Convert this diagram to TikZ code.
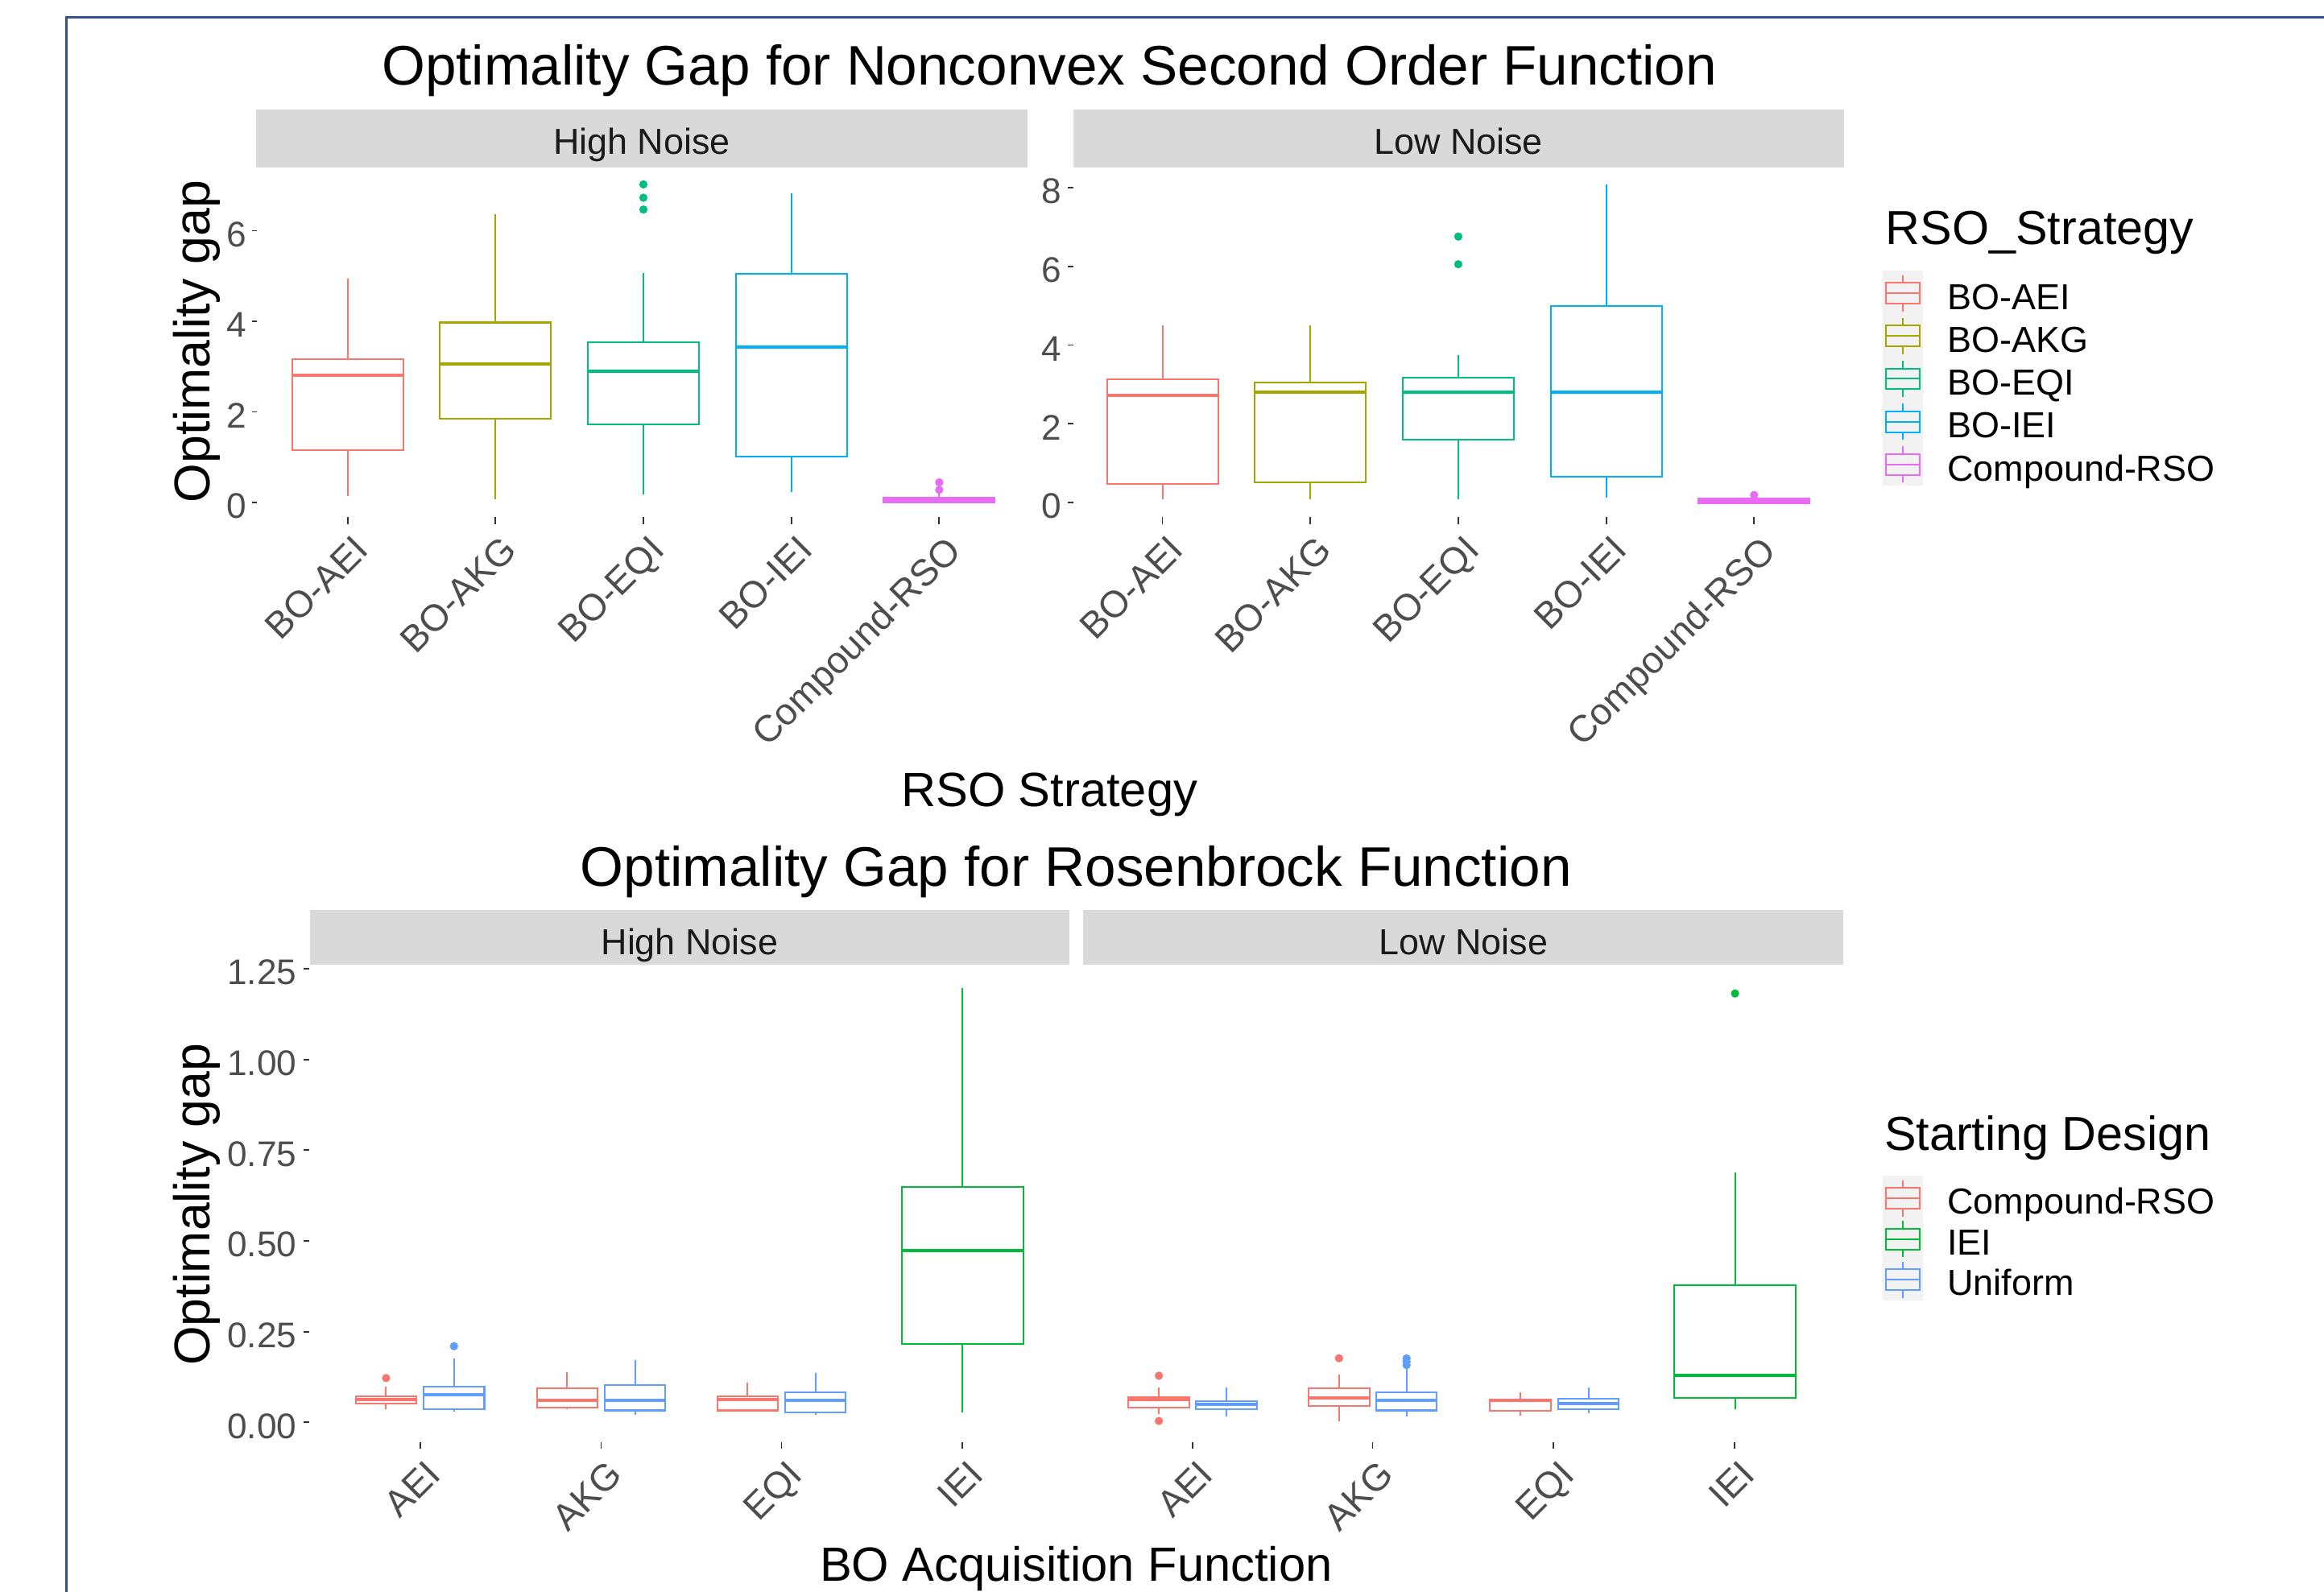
\documentclass[tikz,border=0pt]{standalone}
\usepackage{fontspec}
\setmainfont{Liberation Sans}
\definecolor{cA}{HTML}{F8766D}
\definecolor{cB}{HTML}{A3A500}
\definecolor{cC}{HTML}{00BF7D}
\definecolor{cD}{HTML}{00B0F6}
\definecolor{cE}{HTML}{E76BF3}
\definecolor{gG}{HTML}{00BA38}
\definecolor{bB}{HTML}{619CFF}
\definecolor{stripbg}{HTML}{D9D9D9}
\definecolor{keybg}{HTML}{F2F2F2}
\definecolor{ticktxt}{HTML}{4D4D4D}
\definecolor{tickln}{HTML}{333333}
\definecolor{striptxt}{HTML}{1A1A1A}
\definecolor{framebl}{HTML}{2F528F}
\newcommand{\bplot}[8]{%
  \draw[bl,#1] (#2,#4) -- (#2,#5);
  \draw[bl,#1] (#2,#7) -- (#2,#8);
  \draw[bl,#1] ({#2-#3},#5) rectangle ({#2+#3},#7);
  \draw[ml,#1] ({#2-#3},#6) -- ({#2+#3},#6);
}
\newcommand{\opt}[3]{\fill[#1] (#2,#3) circle[radius=1.4pt];}
\newcommand{\lkey}[2]{%
  \draw[bl,#1] (1283.8,{#2-12.2}) -- (1283.8,{#2-7});
  \draw[bl,#1] (1283.8,{#2+7}) -- (1283.8,{#2+12.2});
  \draw[bl,#1] (1272.6,{#2-7}) rectangle (1295,{#2+7});
  \draw[bl,#1] (1272.6,#2) -- (1295,#2);
}
\begin{document}
\begin{tikzpicture}[x=0.5pt,y=-0.5pt,
  bl/.style={line width=0.55pt},
  ml/.style={line width=1.15pt},
  tk/.style={draw=tickln,line width=0.5pt},
  ttl/.style={font=\fontsize{18.8}{22}\selectfont,text=black,inner sep=0},
  axt/.style={font=\fontsize{16.2}{19}\selectfont,text=black,inner sep=0},
  ayt/.style={font=\fontsize{17}{20}\selectfont,text=black,inner sep=0,rotate=90},
  strp/.style={font=\fontsize{12.2}{14}\selectfont,text=striptxt,inner sep=0},
  tkl/.style={font=\fontsize{12}{14}\selectfont,text=ticktxt,inner sep=0},
  xtl/.style={font=\fontsize{12.6}{14}\selectfont,text=ticktxt,inner sep=0,rotate=45,anchor=north east},
  lgt/.style={font=\fontsize{16.1}{19}\selectfont,text=black,inner sep=0,anchor=base west},
  lgl/.style={font=\fontsize{12.2}{14}\selectfont,text=black,inner sep=0,anchor=base west}]
\useasboundingbox (0,0) rectangle (1568,1074);
\fill[white] (0,0) rectangle (1568,1074);
% frame
\draw[framebl,line width=0.8pt] (1568,11.6) -- (45,11.6) -- (45,1074);

% ================= TOP CHART =================
\node[ttl,anchor=base] (title1) at (708,57.5) {Optimality Gap for Nonconvex Second Order Function};
\fill[stripbg] (173,74) rectangle (693,113);
\fill[stripbg] (724,74) rectangle (1244,113);
\node[strp,anchor=base] (s1) at (433,104) {High Noise};
\node[strp,anchor=base] (s2) at (984,104) {Low Noise};
% y axis left
\foreach \v in {0,2,4,6}{
  \draw[tk] (170,{339-30.55*\v}) -- (173.3,{339-30.55*\v});
  \node[tkl,anchor=east] at (166.5,{339-30.55*\v+2.5}) {\v};
}
% y axis right
\foreach \v in {0,2,4,6,8}{
  \draw[tk] (720.5,{339-26.55*\v}) -- (724,{339-26.55*\v});
  \node[tkl,anchor=east] at (716.5,{339-26.55*\v+2.5}) {\v};
}
\node[ayt,anchor=base] (yt1) at (141.5,230.4) {Optimality gap};
% x ticks and labels
\foreach \x/\l in {234.5/BO-AEI,334.3/BO-AKG,434.1/BO-EQI,533.9/BO-IEI,633.7/Compound-RSO,
                   784.3/BO-AEI,884.1/BO-AKG,983.9/BO-EQI,1083.7/BO-IEI,1183.5/Compound-RSO}{
  \draw[tk] (\x,349) -- (\x,353.5);
  \node[xtl] at (\x+3,359.5) {\l};
}
\node[axt,anchor=base] (xt1) at (708,544) {RSO Strategy};
% boxes high noise
\bplot{cA}{234.5}{37.5}{188}{242.5}{253}{303.7}{334.7}
\bplot{cB}{334.3}{37.5}{144.3}{217.6}{245.7}{282.6}{337}
\bplot{cC}{434.1}{37.5}{184.3}{231}{250.3}{286.2}{333.5}
\opt{cC}{434.1}{124.4}\opt{cC}{434.1}{133.4}\opt{cC}{434.1}{141.4}
\bplot{cD}{533.9}{37.5}{130.5}{184.8}{234}{308}{331.8}
\bplot{cE}{633.7}{37.5}{332}{336}{337.5}{339}{339}
\opt{cE}{633.7}{325.5}\opt{cE}{633.7}{330.5}
% boxes low noise
\bplot{cA}{784.3}{37.5}{219.5}{255.9}{266.8}{326.7}{337.1}
\bplot{cB}{884.1}{37.5}{219.5}{258.3}{264.4}{325.5}{337.1}
\bplot{cC}{983.9}{37.5}{239.6}{254.7}{264.4}{296.4}{337.1}
\opt{cC}{983.9}{159.6}\opt{cC}{983.9}{178.3}
\bplot{cD}{1083.7}{37.5}{124.2}{206.2}{264.4}{321.9}{335.9}
\bplot{cE}{1183.5}{37.5}{335}{336.2}{338}{339.6}{339.6}
\opt{cE}{1183.5}{334}
% legend 1
\node[lgt] (lt1) at (1272,165) {RSO\_Strategy};
\fill[keybg] (1270,182.5) rectangle (1297.6,327.4);
\lkey{cA}{197.8}\lkey{cB}{226.7}\lkey{cC}{255.6}\lkey{cD}{284.5}\lkey{cE}{313.4}
\node[lgl] (l11) at (1313.5,208.8) {BO-AEI};
\node[lgl] (l12) at (1313.5,237.7) {BO-AKG};
\node[lgl] (l13) at (1313.5,266.6) {BO-EQI};
\node[lgl] (l14) at (1313.5,295.5) {BO-IEI};
\node[lgl] (l15) at (1313.5,324.4) {Compound-RSO};

% ================= BOTTOM CHART =================
\node[ttl,anchor=base] (title2) at (726,598) {Optimality Gap for Rosenbrock Function};
\fill[stripbg] (209,613.8) rectangle (721.5,650.7);
\fill[stripbg] (731,613.8) rectangle (1243.7,650.7);
\node[strp,anchor=base] (s3) at (465.3,644) {High Noise};
\node[strp,anchor=base] (s4) at (987.4,644) {Low Noise};
\foreach \k/\l in {0/0.00,1/0.25,2/0.50,3/0.75,4/1.00,5/1.25}{
  \draw[tk] (204.8,{959.7-61.22*\k}) -- (208.5,{959.7-61.22*\k});
  \node[tkl,anchor=east] at (200.5,{959.7-61.22*\k+2.5}) {\l};
}
\node[ayt,anchor=base] (yt2) at (141.5,812.7) {Optimality gap};
\foreach \x/\l in {283.4/AEI,405.6/AKG,527.3/EQI,649.3/IEI,804.6/AEI,926.1/AKG,1048.1/EQI,1170.1/IEI}{
  \draw[tk] (\x,973) -- (\x,977.6);
  \node[xtl] at (\x+3,983.6) {\l};
}
\node[axt,anchor=base] (xt2) at (726,1067) {BO Acquisition Function};
% high noise
\bplot{cA}{260.5}{20.5}{935.6}{942.0}{944.3}{946.8}{950.7}
\opt{cA}{260.5}{929.8}
\bplot{bB}{306.3}{20.5}{916.4}{935.6}{941.1}{950.7}{952.3}
\opt{bB}{306.3}{908.3}
\bplot{cA}{382.7}{20.5}{926}{936.9}{944.9}{949.7}{950.7}
\bplot{bB}{428.5}{20.5}{917.6}{934.6}{944.9}{951.6}{954.5}
\bplot{cA}{504.4}{20.5}{933}{942}{944.3}{951.6}{952.3}
\bplot{bB}{550.2}{20.5}{926.6}{939.4}{944.9}{952.9}{954.5}
\bplot{gG}{649.3}{41}{666.7}{800.8}{843.8}{906.7}{952.9}
% low noise
\bplot{cA}{781.9}{20.5}{936.2}{942.7}{944.3}{949.7}{953.9}
\opt{cA}{781.9}{928.2}\opt{cA}{781.9}{958.7}
\bplot{bB}{827.5}{20.5}{936.2}{945.2}{947.5}{950.7}{955.5}
\bplot{cA}{903.4}{20.5}{927.6}{936.9}{943.3}{948.4}{958.7}
\opt{cA}{903.4}{916.4}
\bplot{bB}{949.0}{20.5}{922.8}{939.4}{944.9}{951.6}{955.5}
\opt{bB}{949.0}{916.5}\opt{bB}{949.0}{918.8}\opt{bB}{949.0}{921}
\bplot{cA}{1025.8}{20.5}{939.4}{944.4}{945}{951.7}{955.3}
\bplot{bB}{1071.7}{20.5}{936.3}{943.9}{947.1}{950.8}{953.5}
\bplot{gG}{1170.6}{41}{791.2}{867.3}{928.1}{943.2}{950.8}
\opt{gG}{1170.6}{670.3}
% legend 2
\node[lgt] (lt2) at (1271,776) {Starting Design};
\fill[keybg] (1270,793.5) rectangle (1297.6,877.5);
\lkey{cA}{808.5}\lkey{gG}{836}\lkey{bB}{863.5}
\node[lgl] (l21) at (1313.5,819) {Compound-RSO};
\node[lgl] (l22) at (1313.5,846.5) {IEI};
\node[lgl] (l23) at (1313.5,874) {Uniform};
\end{tikzpicture}
\end{document}
